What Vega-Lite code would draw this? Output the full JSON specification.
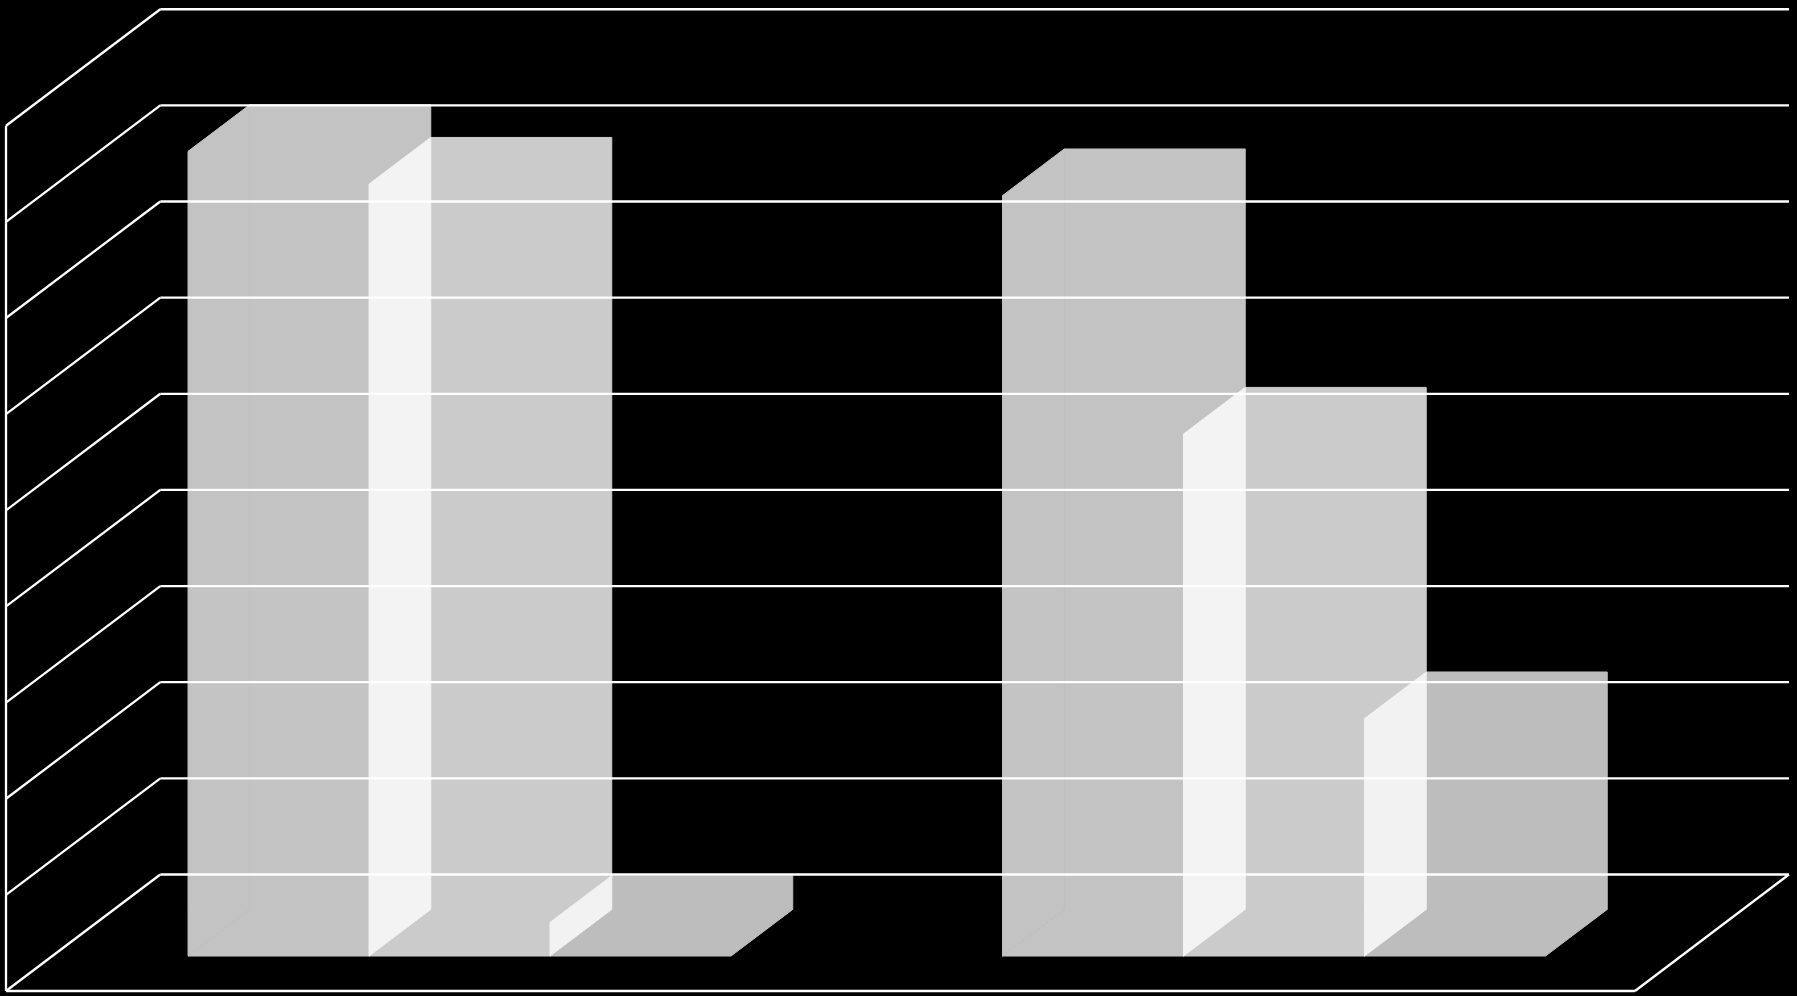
{
  "$schema": "https://vega.github.io/schema/vega-lite/v6.json",
  "width": 1783,
  "height": 981,
  "padding": {"left": 6, "top": 10, "right": 8, "bottom": 5},
  "autosize": {"type": "none"},
  "background": "black",
  "config": {"view": {"stroke": null}},
  "datasets": {
    "bars": [
      {"cluster": "A", "series": "S1", "value": 8.37},
      {"cluster": "A", "series": "S2", "value": 8.03},
      {"cluster": "A", "series": "S3", "value": 0.35},
      {"cluster": "B", "series": "S1", "value": 7.91},
      {"cluster": "B", "series": "S2", "value": 5.43},
      {"cluster": "B", "series": "S3", "value": 2.47}
    ],
    "levels": [
      {"level": 0}, {"level": 1}, {"level": 2}, {"level": 3}, {"level": 4},
      {"level": 5}, {"level": 6}, {"level": 7}, {"level": 8}, {"level": 9}
    ]
  },
  "layer": [
    {
      "data": {"name": "bars"},
      "transform": [
        {"calculate": "(datum.cluster == 'A' ? 0.75 : 5.25) + indexof(['S1','S2','S3'], datum.series)", "as": "slot"},
        {"calculate": "[0.3, 0.7]", "as": "depth"},
        {"flatten": ["depth"]},
        {"calculate": "datum.slot + datum.depth * 0.8525", "as": "x0"},
        {"calculate": "datum.x0 + 1", "as": "x1"},
        {"calculate": "datum.depth * 1.212", "as": "base"},
        {"calculate": "datum.base + datum.value", "as": "top"}
      ],
      "layer": [
        {
          "transform": [{"filter": "datum.depth == 0.7"}],
          "mark": {"type": "rect", "strokeWidth": 1, "opacity": 1},
          "encoding": {
            "x": {"field": "x0", "type": "quantitative", "axis": null, "scale": {"domain": [0, 9.851], "nice": false, "zero": false}},
            "x2": {"field": "x1"},
            "y": {"field": "base", "type": "quantitative", "axis": null, "scale": {"domain": [0, 10.204], "nice": false, "zero": false}},
            "y2": {"field": "top"},
            "fill": {"field": "series", "type": "nominal", "legend": null, "scale": {"domain": ["S1", "S2", "S3"], "range": ["#c3c3c3", "#cbcbcb", "#bdbdbd"]}},
            "stroke": {"field": "series", "type": "nominal", "legend": null, "scale": {"domain": ["S1", "S2", "S3"], "range": ["#c3c3c3", "#cbcbcb", "#bdbdbd"]}}
          }
        },
        {
          "mark": {"type": "area", "orient": "horizontal", "strokeWidth": 1, "opacity": 1},
          "encoding": {
            "y": {"field": "base", "type": "quantitative", "axis": null},
            "x": {"field": "x0", "type": "quantitative", "axis": null},
            "x2": {"field": "x1"},
            "detail": {"field": "cluster"},
            "fill": {"field": "series", "type": "nominal", "legend": null, "scale": {"domain": ["S1", "S2", "S3"], "range": ["#c3c3c3", "#cbcbcb", "#bdbdbd"]}},
            "stroke": {"field": "series", "type": "nominal", "legend": null, "scale": {"domain": ["S1", "S2", "S3"], "range": ["#c3c3c3", "#cbcbcb", "#bdbdbd"]}}
          }
        },
        {
          "mark": {"type": "area", "orient": "vertical", "strokeWidth": 1, "opacity": 1},
          "encoding": {
            "x": {"field": "x0", "type": "quantitative", "axis": null},
            "y": {"field": "base", "type": "quantitative", "axis": null},
            "y2": {"field": "top"},
            "detail": {"field": "cluster"},
            "fill": {"field": "series", "type": "nominal", "legend": null, "scale": {"domain": ["S1", "S2", "S3"], "range": ["#c3c3c3", "#f3f3f3", "#f2f2f2"]}},
            "stroke": {"field": "series", "type": "nominal", "legend": null, "scale": {"domain": ["S1", "S2", "S3"], "range": ["#c3c3c3", "#f3f3f3", "#f2f2f2"]}}
          }
        }
      ],
      "resolve": {"scale": {"fill": "independent", "stroke": "independent"}}
    },
    {
      "data": {"name": "levels"},
      "transform": [
        {"calculate": "datum.level + 1.212", "as": "backLevel"}
      ],
      "layer": [
        {
          "mark": {"type": "rule", "color": "white", "strokeWidth": 2.3},
          "encoding": {
            "x": {"datum": 0, "type": "quantitative", "axis": null},
            "x2": {"datum": 0.8525},
            "y": {"field": "level", "type": "quantitative", "axis": null},
            "y2": {"field": "backLevel"}
          }
        },
        {
          "mark": {"type": "rule", "color": "white", "strokeWidth": 2.3},
          "encoding": {
            "x": {"datum": 0.8525, "type": "quantitative", "axis": null},
            "x2": {"datum": 9.851},
            "y": {"field": "backLevel", "type": "quantitative", "axis": null}
          }
        },
        {
          "transform": [{"filter": "datum.level == 0"}],
          "mark": {"type": "rule", "color": "white", "strokeWidth": 2.3},
          "encoding": {
            "x": {"datum": 0, "type": "quantitative", "axis": null},
            "x2": {"datum": 9},
            "y": {"field": "level", "type": "quantitative", "axis": null}
          }
        },
        {
          "transform": [{"filter": "datum.level == 0"}],
          "mark": {"type": "rule", "color": "white", "strokeWidth": 2.3},
          "encoding": {
            "x": {"datum": 9, "type": "quantitative", "axis": null},
            "x2": {"datum": 9.851},
            "y": {"field": "level", "type": "quantitative", "axis": null},
            "y2": {"field": "backLevel"}
          }
        },
        {
          "transform": [{"filter": "datum.level == 0"}],
          "mark": {"type": "rule", "color": "white", "strokeWidth": 2.3},
          "encoding": {
            "x": {"datum": 0, "type": "quantitative", "axis": null},
            "y": {"datum": 0, "type": "quantitative", "axis": null},
            "y2": {"datum": 9}
          }
        }
      ]
    }
  ],
  "resolve": {"scale": {"fill": "independent", "stroke": "independent"}}
}
